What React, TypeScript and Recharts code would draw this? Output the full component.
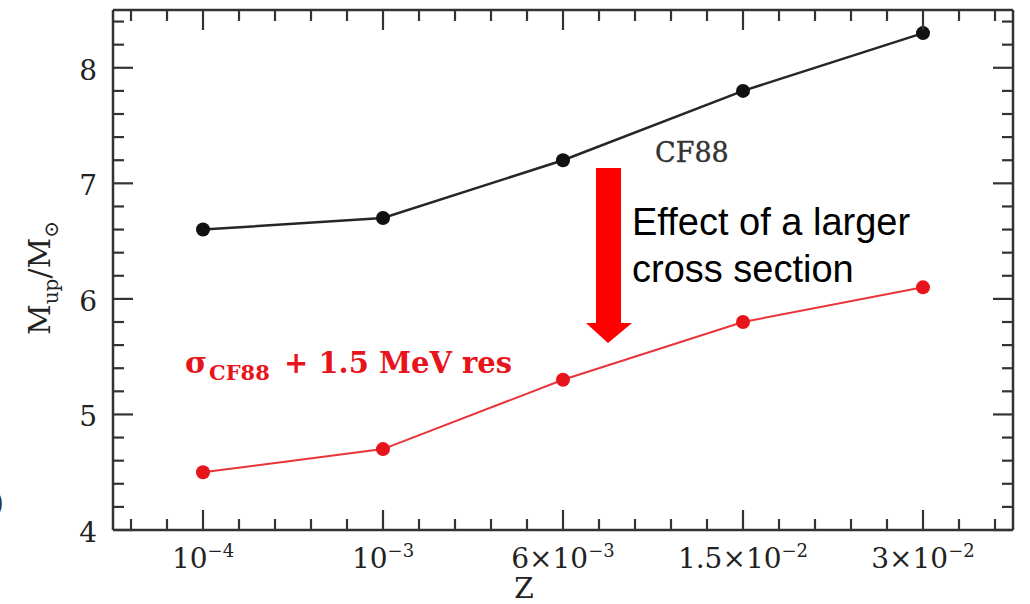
import React from "react";
import { LineChart, Line, XAxis, YAxis } from "recharts";

// metallicity positions (evenly spaced categories) and their labels
const Z_INDEX = [0, 1, 2, 3, 4];
const Z_BASE = ["10", "10", "6×10", "1.5×10", "3×10"];
const Z_EXP = ["−4", "−3", "−3", "−2", "−2"];

// M_up / M_sun
const CF88 = [6.6, 6.7, 7.2, 7.8, 8.3];
const CF88_RES = [4.5, 4.7, 5.3, 5.8, 6.1];

const Y_LABELS = [4, 5, 6, 7, 8];

const W = 1030;
const H = 604;
const SERIF = "'DejaVu Serif', 'Liberation Serif', serif";
const SANS = "'Liberation Sans', Arial, sans-serif";
const FRAME = "#333";
const RED = "#e8141c";

const data = Z_INDEX.map((i) => ({ i, cf88: CF88[i], res: CF88_RES[i] }));

const round1 = (v: number) => Math.round(v * 10) / 10;
const xTicks: number[] = [];
for (let k = -2; k <= 22; k++) xTicks.push(round1(k * 0.2));
const yTicks: number[] = [];
for (let k = 20; k <= 42; k++) yTicks.push(round1(k * 0.2));

const isMajor = (v: number) => Math.abs(v - Math.round(v)) < 1e-6;

function BottomTick(props: any) {
  const { x, y, payload } = props;
  const v = payload.value;
  const major = isMajor(v);
  const len = major ? 20 : 11;
  return (
    <g>
      <line x1={x} x2={x} y1={y} y2={y - len} stroke={FRAME} strokeWidth={2.2} />
      {major && (
        <text x={x} y={y + 38} textAnchor="middle" fontFamily={SERIF} fontSize={28} fill="#222">
          {Z_BASE[Math.round(v)]}
          <tspan fontSize={18} dy={-11}>{Z_EXP[Math.round(v)]}</tspan>
        </text>
      )}
    </g>
  );
}

function TopTick(props: any) {
  const { x, y, payload } = props;
  const len = isMajor(payload.value) ? 20 : 11;
  return <line x1={x} x2={x} y1={y} y2={y + len} stroke={FRAME} strokeWidth={2.2} />;
}

function LeftTick(props: any) {
  const { x, y, payload } = props;
  const v = payload.value;
  const major = isMajor(v) && Y_LABELS.includes(Math.round(v));
  const len = major ? 20 : 11;
  return (
    <g>
      <line x1={x} x2={x + len} y1={y} y2={y} stroke={FRAME} strokeWidth={2.2} />
      {major && (
        <text x={x - 16} y={y + 12} textAnchor="end" fontFamily={SERIF} fontSize={28} fill="#222">
          {Math.round(v)}
        </text>
      )}
    </g>
  );
}

function RightTick(props: any) {
  const { x, y, payload } = props;
  const len = isMajor(payload.value) ? 20 : 11;
  return <line x1={x} x2={x - len} y1={y} y2={y} stroke={FRAME} strokeWidth={2.2} />;
}

export default function App() {
  const axisLine = { stroke: FRAME, strokeWidth: 2.5 };
  return (
    <div style={{ position: "absolute", left: 0, top: 0, width: W, height: H, background: "#fff" }}>
      <LineChart width={W} height={H} data={data} margin={{ top: 9, right: 16, bottom: 73, left: 112 }}>
        <XAxis
          dataKey="i"
          type="number"
          domain={[-0.5, 4.5]}
          allowDataOverflow
          ticks={xTicks}
          interval={0}
          height={1}
          tickSize={0}
          tickMargin={0}
          tickLine={false}
          axisLine={axisLine}
          tick={BottomTick}
        />
        <XAxis
          xAxisId="top"
          orientation="top"
          dataKey="i"
          type="number"
          domain={[-0.5, 4.5]}
          allowDataOverflow
          ticks={xTicks}
          interval={0}
          height={1}
          tickSize={0}
          tickMargin={0}
          tickLine={false}
          axisLine={axisLine}
          tick={TopTick}
        />
        <YAxis
          type="number"
          domain={[4, 8.5]}
          allowDataOverflow
          ticks={yTicks}
          interval={0}
          width={1}
          tickSize={0}
          tickMargin={0}
          tickLine={false}
          axisLine={axisLine}
          tick={LeftTick}
        />
        <YAxis
          yAxisId="right"
          orientation="right"
          type="number"
          domain={[4, 8.5]}
          allowDataOverflow
          ticks={yTicks}
          interval={0}
          width={1}
          tickSize={0}
          tickMargin={0}
          tickLine={false}
          axisLine={axisLine}
          tick={RightTick}
        />
        <Line
          dataKey="cf88"
          stroke="#262626"
          strokeWidth={2.5}
          dot={{ r: 7, fill: "#111", stroke: "#111", strokeWidth: 0 }}
          isAnimationActive={false}
        />
        <Line
          dataKey="res"
          stroke="#e8343a"
          strokeWidth={2}
          dot={{ r: 7, fill: RED, stroke: RED, strokeWidth: 0 }}
          isAnimationActive={false}
        />
      </LineChart>

      {/* annotations */}
      <svg width={W} height={H} style={{ position: "absolute", left: 0, top: 0, pointerEvents: "none" }}>
        <text x={524} y={598} textAnchor="middle" fontFamily={SERIF} fontSize={28} fill="#222">
          Z
        </text>
        <text transform="translate(50,278) rotate(-90)" textAnchor="middle" fontFamily={SERIF} fontSize={30} fill="#222">
          M<tspan fontSize={20} dy={8}>up</tspan>
          <tspan dy={-8}>/M</tspan>
          <tspan fontSize={20} dy={8}>⊙</tspan>
        </text>
        <text x={-7} y={512} fontFamily={SERIF} fontSize={28} fill="#333">
          )
        </text>

        <text x={655} y={162} fontFamily={SERIF} fontSize={27} fill="#333" stroke="#333" strokeWidth={0.4}>
          CF88
        </text>

        <polygon points="596,168 621,168 621,323 632,323 608,343 586,323 596,323" fill="#ff0000" />
        <text x={632} y={235} fontFamily={SANS} fontSize={38} fill="#000">
          Effect of a larger
        </text>
        <text x={632} y={282} fontFamily={SANS} fontSize={38} fill="#000">
          cross section
        </text>

        <text x={185} y={373} fontFamily={SERIF} fontSize={30} fontWeight="bold" fill={RED}>
          σ
        </text>
        <text x={209} y={380} fontFamily={SERIF} fontSize={21} fontWeight="bold" fill={RED}>
          CF88
        </text>
        <text x={284} y={373} fontFamily={SERIF} fontSize={29} fontWeight="bold" fill={RED}>
          + 1.5 MeV res
        </text>
      </svg>
    </div>
  );
}
